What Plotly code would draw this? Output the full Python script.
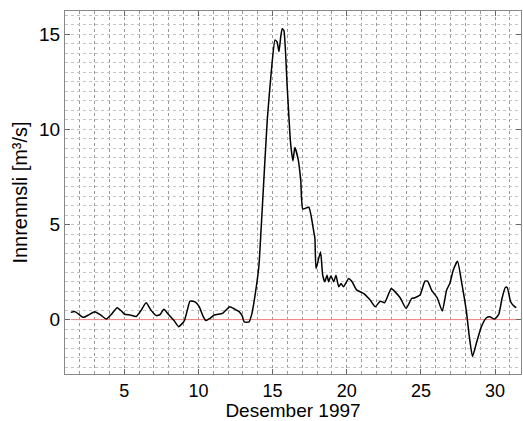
import plotly.graph_objects as go

# Day of December 1997 (fractional) and inflow [m3/s]
day = [1.39, 1.66, 1.9, 2.22, 2.6, 3.0, 3.4, 3.79, 4.15, 4.52, 4.8, 5.02, 5.4, 5.8,
       6.1, 6.47, 6.8, 7.15, 7.43, 7.66, 7.9, 8.1, 8.35, 8.66, 8.85, 9.05, 9.25,
       9.43, 9.79, 10.05, 10.3, 10.5, 10.75, 11.06, 11.62, 11.85, 12.11, 12.45,
       12.74, 12.95, 13.08, 13.41, 13.6, 13.75, 13.95, 14.08, 14.3, 14.64, 14.94,
       15.16, 15.3, 15.43, 15.55, 15.65, 15.76, 15.98, 16.21, 16.37, 16.5, 16.72,
       16.9, 17.04, 17.44, 17.78, 17.85, 17.93, 18.23, 18.38, 18.52, 18.67, 18.78,
       18.93, 19.12, 19.27, 19.46, 19.62, 19.78, 20.13, 20.36, 20.68, 21.13, 21.58,
       21.92, 22.26, 22.55, 23.0, 23.26, 23.6, 24.0, 24.38, 24.6, 24.94, 25.27,
       25.45, 25.72, 26.1, 26.44, 26.73, 26.95, 27.18, 27.47, 27.74, 28.07, 28.25,
       28.48, 28.74, 29.08, 29.42, 29.64, 29.98, 30.25, 30.47, 30.69, 30.82, 31.05,
       31.32, 31.43]
flow = [0.38, 0.42, 0.3, 0.12, 0.25, 0.42, 0.25, 0.03, 0.3, 0.63, 0.45, 0.28, 0.24, 0.16,
        0.45, 0.89, 0.5, 0.21, 0.28, 0.54, 0.35, 0.16, -0.05, -0.37, -0.25, -0.05, 0.5,
        0.97, 0.92, 0.68, 0.2, -0.05, 0.05, 0.24, 0.33, 0.5, 0.68, 0.55,
        0.42, 0.2, -0.12, -0.12, 0.3, 0.94, 2.0, 2.86, 5.82, 10.5, 13.3,
        14.7, 14.6, 14.1, 14.9, 15.3, 15.2, 12.3, 9.3, 8.35, 9.05, 8.44,
        7.3, 5.82, 5.91, 4.6, 4.3, 2.68, 3.56, 2.33, 1.99, 2.33, 1.99,
        2.3, 1.99, 2.33, 1.73, 1.9, 1.73, 2.16, 1.99, 1.55, 1.38, 1.03,
        0.68, 0.97, 0.89, 1.64, 1.46, 1.15, 0.59, 1.11, 1.15, 1.29, 2.02,
        2.02, 1.55, 1.15, 0.45, 1.55, 1.9, 2.6, 3.07, 1.99, 0.42, -0.8,
        -1.94, -1.24, -0.37, 0.1, 0.15, 0.03, 0.28, 1.11, 1.69, 1.69, 0.94,
        0.68, 0.63]

x_ticks = [5, 10, 15, 20, 25, 30]
y_ticks = [0, 5, 10, 15]
x_range = [1.0, 31.75]
y_range = [-2.86, 16.23]

fig = go.Figure()
fig.add_trace(go.Scatter(x=[day[0], day[-1]], y=[0, 0], mode="lines",
                         line=dict(color="#f08080", width=1), hoverinfo="skip"))
fig.add_trace(go.Scatter(x=day, y=flow, mode="lines",
                         line=dict(color="black", width=1.5, shape="spline",
                                   smoothing=0.5)))

font = "Liberation Sans, Arial, sans-serif"
fig.update_layout(
    width=523, height=421,
    margin=dict(l=65, r=1, t=11, b=45),
    paper_bgcolor="white", plot_bgcolor="white",
    showlegend=False,
    font=dict(family=font, size=19, color="black"),
)
fig.update_xaxes(range=x_range, tickvals=x_ticks, ticks="inside", ticklen=5,
                 tickcolor="#666", showline=True, linecolor="#888", mirror="ticks",
                 zeroline=False, tickfont=dict(size=18),
                 showgrid=True, gridcolor="#999999", griddash="dot", gridwidth=1,
                 minor=dict(dtick=1, tick0=0, showgrid=True, gridcolor="#999999",
                            griddash="dot", gridwidth=1),
                 title=dict(text="Desember 1997", font=dict(size=19), standoff=6))
fig.update_yaxes(range=y_range, tickvals=y_ticks, ticks="inside", ticklen=5,
                 tickcolor="#666", showline=True, linecolor="#888", mirror="ticks",
                 zeroline=False, tickfont=dict(size=19),
                 showgrid=True, gridcolor="#c4c4c4", griddash="dot", gridwidth=1,
                 minor=dict(dtick=0.5, tick0=0, showgrid=True, gridcolor="#c4c4c4",
                            griddash="dot", gridwidth=1),
                 title=dict(text="Innrennsli [m³/s]", font=dict(size=20), standoff=6))

fig.write_html("out.html")
